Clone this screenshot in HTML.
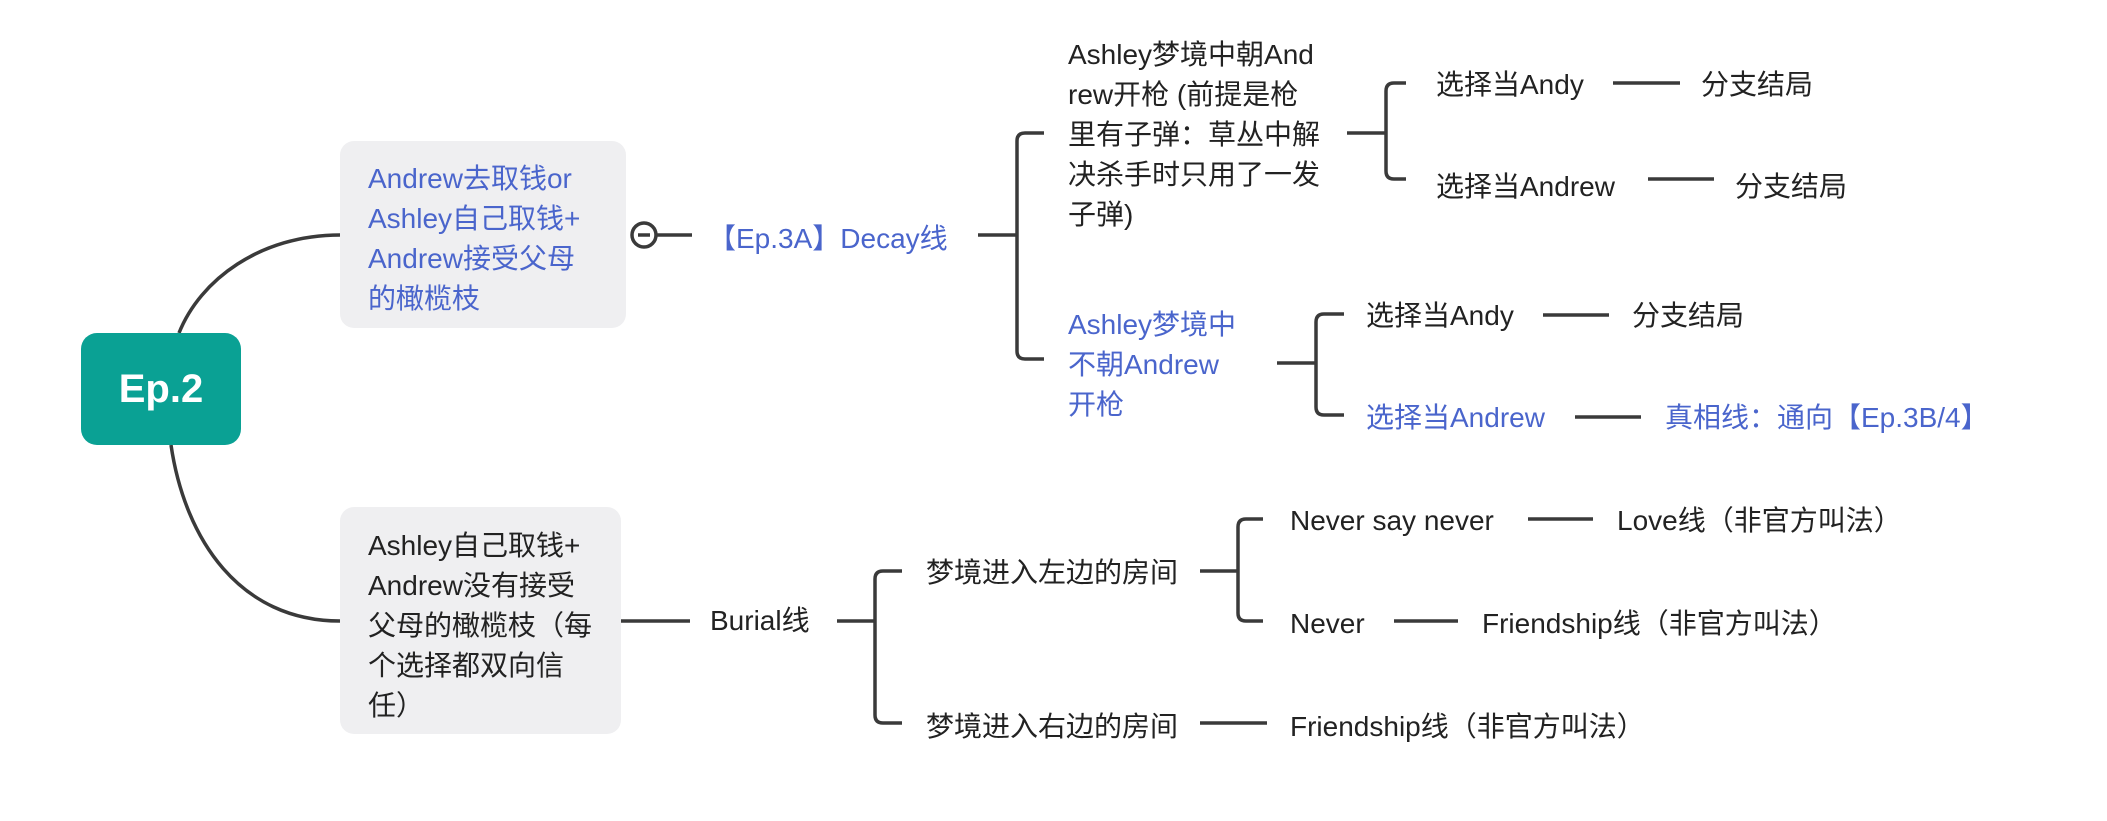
<!DOCTYPE html>
<html><head><meta charset="utf-8"><style>
body{margin:0;width:2107px;height:821px;background:#fff;position:relative;overflow:hidden;font-family:"Liberation Sans","Noto Sans CJK SC",sans-serif;}
.t{position:absolute;font-size:28px;line-height:40px;color:#222;white-space:nowrap;}
.b{color:#4a65cc;}
.box{position:absolute;background:#efeff1;border-radius:14px;}
</style></head><body>
<svg width="2107" height="821" style="position:absolute;left:0;top:0" fill="none" stroke="#3a3a3a" stroke-width="3.5">
<path d="M179,333 C200,280 260,235 340,235"/>
<path d="M171,445 C185,540 240,621 340,621"/>
<circle cx="644" cy="235" r="12" fill="#fff"/>
<line x1="638" y1="235" x2="650" y2="235"/>
<line x1="656" y1="235" x2="692" y2="235"/>
<line x1="978" y1="235" x2="1017" y2="235"/>
<path d="M1044,133 H1025 Q1017,133 1017,141 V351 Q1017,359 1025,359 H1044"/>
<line x1="1347" y1="133" x2="1386" y2="133"/>
<path d="M1406,83 H1394 Q1386,83 1386,91 V171 Q1386,179 1394,179 H1406"/>
<line x1="1613" y1="83" x2="1680" y2="83"/>
<line x1="1648" y1="179" x2="1714" y2="179"/>
<line x1="1277" y1="363" x2="1316" y2="363"/>
<path d="M1344,314 H1324 Q1316,314 1316,322 V407 Q1316,415 1324,415 H1344"/>
<line x1="1543" y1="315" x2="1609" y2="315"/>
<line x1="1575" y1="417" x2="1641" y2="417"/>
<line x1="621" y1="621" x2="690" y2="621"/>
<line x1="837" y1="621" x2="875" y2="621"/>
<path d="M902,571 H883 Q875,571 875,579 V715 Q875,723 883,723 H902"/>
<line x1="1200" y1="571" x2="1238" y2="571"/>
<path d="M1263,519 H1246 Q1238,519 1238,527 V613 Q1238,621 1246,621 H1263"/>
<line x1="1528" y1="519" x2="1593" y2="519"/>
<line x1="1394" y1="621" x2="1458" y2="621"/>
<line x1="1200" y1="723" x2="1267" y2="723"/>
</svg>
<div class="box" style="left:81px;top:333px;width:160px;height:112px;background:#0aa194;border-radius:16px;"></div>
<div class="t" style="left:81px;top:369px;width:160px;text-align:center;color:#fff;font-weight:bold;font-size:40px;">Ep.2</div>
<div class="box" style="left:340px;top:141px;width:286px;height:187px;"></div>
<div class="t b" style="left:368px;top:159px;">Andrew去取钱or<br>Ashley自己取钱+<br>Andrew接受父母<br>的橄榄枝</div>
<div class="box" style="left:340px;top:507px;width:281px;height:227px;"></div>
<div class="t" style="left:368px;top:526px;">Ashley自己取钱+<br>Andrew没有接受<br>父母的橄榄枝（每<br>个选择都双向信<br>任）</div>
<div class="t b" style="left:708px;top:219px;">【Ep.3A】Decay线</div>
<div class="t" style="left:1068px;top:35px;">Ashley梦境中朝And<br>rew开枪 (前提是枪<br>里有子弹：草丛中解<br>决杀手时只用了一发<br>子弹)</div>
<div class="t" style="left:1436px;top:65px;">选择当Andy</div>
<div class="t" style="left:1701px;top:65px;">分支结局</div>
<div class="t" style="left:1436px;top:167px;">选择当Andrew</div>
<div class="t" style="left:1735px;top:167px;">分支结局</div>
<div class="t b" style="left:1068px;top:305px;">Ashley梦境中<br>不朝Andrew<br>开枪</div>
<div class="t" style="left:1366px;top:296px;">选择当Andy</div>
<div class="t" style="left:1632px;top:296px;">分支结局</div>
<div class="t b" style="left:1366px;top:398px;">选择当Andrew</div>
<div class="t b" style="left:1665px;top:398px;">真相线：通向【Ep.3B/4】</div>
<div class="t" style="left:710px;top:601px;">Burial线</div>
<div class="t" style="left:926px;top:553px;">梦境进入左边的房间</div>
<div class="t" style="left:1290px;top:501px;">Never say never</div>
<div class="t" style="left:1617px;top:501px;">Love线（非官方叫法）</div>
<div class="t" style="left:1290px;top:604px;">Never</div>
<div class="t" style="left:1482px;top:604px;">Friendship线（非官方叫法）</div>
<div class="t" style="left:926px;top:707px;">梦境进入右边的房间</div>
<div class="t" style="left:1290px;top:707px;">Friendship线（非官方叫法）</div>
</body></html>
